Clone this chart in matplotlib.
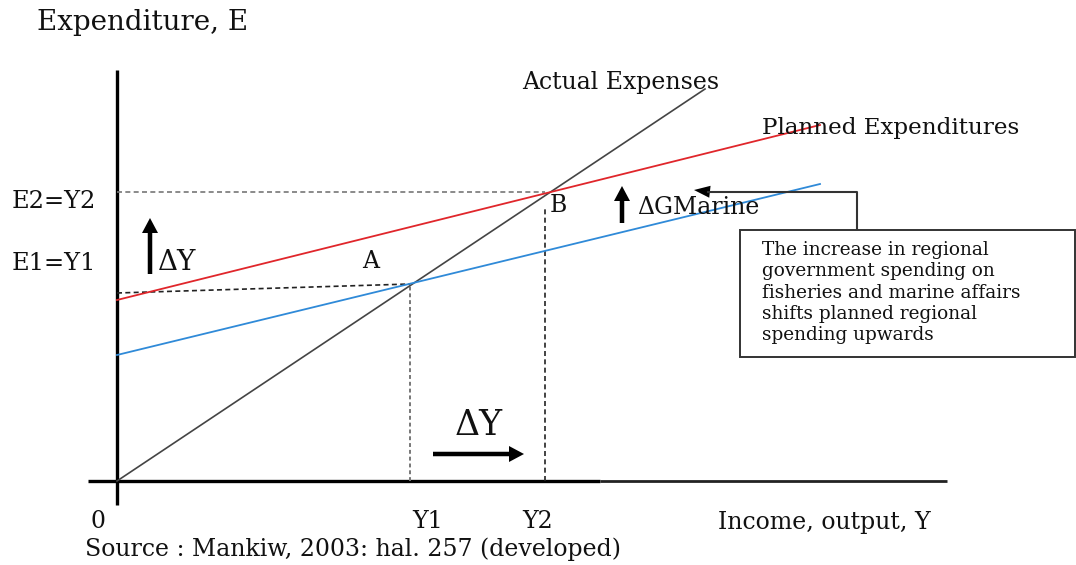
import matplotlib
matplotlib.use("Agg")
import matplotlib.pyplot as plt
from matplotlib.patches import FancyArrow, Rectangle

# ---- data (model units; origin at the axes' corner) ----
income_ends = [0, 703]                 # x-range of planned expenditure lines
planned_before = [126, 297]            # blue: planned expenditure before increase
planned_after = [181, 356]             # red: planned expenditure after increase
actual_x = [0, 588]                    # 45-degree actual expenditure line
actual_y = [0, 392]
Y1, Y2 = 293, 428
E1_left, E1 = 188, 197
E2 = 289
x_tick_labels = ["0", "Y1", "Y2"]
x_tick_pos = [0, Y1, Y2]

SERIF = "DejaVu Serif"
TXT = "#111111"

fig = plt.figure(figsize=(10.76, 5.65), dpi=100)
ax = fig.add_axes([0, 0, 1, 1])
OX, OY = 117, 481  # pixel location of the origin
ax.set_xlim(-OX, 1076 - OX)
ax.set_ylim(OY - 565, OY)
ax.axis("off")

def P(x, y):
    """pixel position -> data position"""
    return x - OX, OY - y

# axes lines
ax.plot([0, 0], [P(0, 505)[1], P(0, 70)[1]], color="black", lw=2.4, solid_capstyle="butt")
ax.plot([P(88, 0)[0], P(600, 0)[0]], [0, 0], color="black", lw=2.4, solid_capstyle="butt")
ax.plot([P(600, 0)[0], P(947, 0)[0]], [0, 0], color="#222222", lw=2.0, solid_capstyle="butt")

# guide lines
ax.plot([0, Y2], [E2, E2], color="#777777", lw=1.2, ls=(0, (3, 2)))
ax.plot([0, Y1], [E1_left, E1], color="#222222", lw=1.2, ls=(0, (3, 2)))
ax.plot([Y1, Y1], [0, E1], color="#777777", lw=1.4, ls=(0, (2, 1.5)))
ax.plot([Y2, Y2], [0, P(0, 206)[1]], color="#222222", lw=1.2, ls=(0, (3, 2)))

# main lines
ax.plot(actual_x, actual_y, color="#444444", lw=1.2)
ax.plot(income_ends, planned_after, color="#e0262b", lw=1.3)
ax.plot(income_ends, planned_before, color="#2f8ad8", lw=1.3)

# arrows
def arrow(x0, y0, x1, y1):
    a, b = P(x0, y0)
    c, d = P(x1, y1)
    ax.add_patch(FancyArrow(a, b, c - a, d - b, width=4.5, head_width=16,
                            head_length=15, length_includes_head=True,
                            color="black", lw=0))

arrow(150, 274, 150, 218)     # ΔY up (left)
arrow(622, 223, 622, 186)     # ΔG up
arrow(433, 454, 524, 454)     # ΔY right (bottom)

# callout box with connector
ax.plot([P(857, 0)[0], P(857, 0)[0], P(708, 0)[0]],
        [P(0, 229)[1], P(0, 192)[1], P(0, 192)[1]], color="#333333", lw=1.5)
a, b = P(712, 192)
ax.add_patch(FancyArrow(a, b, -18, 2, width=1.5, head_width=12, head_length=16,
                        length_includes_head=True, color="black", lw=0))
bx, by = P(740, 357)
ax.add_patch(Rectangle((bx, by), 1075 - 740, 357 - 230, fill=False,
                       edgecolor="#333333", lw=1.4))
box_lines = ["The increase in regional", "government spending on",
             "fisheries and marine affairs", "shifts planned regional",
             "spending upwards"]
for i, s in enumerate(box_lines):
    ax.text(*P(762, 250 + i * 21.3), s, family=SERIF, fontsize=13.3,
            ha="left", va="center", color=TXT)

# labels
def T(x, y, s, size, ha="left", va="center", **kw):
    ax.text(*P(x, y), s, family=SERIF, fontsize=size, ha=ha, va=va,
            color=TXT, **kw)

T(37, 22, "Expenditure, E", 20)
T(522, 82, "Actual Expenses", 17)
T(762, 128, "Planned Expenditures", 16.6)
T(12, 202, "E2=Y2", 17.4)
T(12, 263, "E1=Y1", 17.4)
T(158, 262, "ΔY", 20)
T(362, 262, "A", 17)
T(550, 205, "B", 17)
T(637, 207, "ΔGMarine", 17)
T(479, 425, "ΔY", 25, ha="center")
for xp, lab in zip(x_tick_pos, x_tick_labels):
    off = -19 if lab == "0" else (18 if lab == "Y1" else -7)
    ax.text(xp + off, P(0, 522)[1], lab, family=SERIF, fontsize=17,
            ha="center", va="center", color=TXT)
T(718, 522, "Income, output, Y", 17)
T(85, 549, "Source : Mankiw, 2003: hal. 257 (developed)", 17)

fig.savefig("out.png", dpi=100)
